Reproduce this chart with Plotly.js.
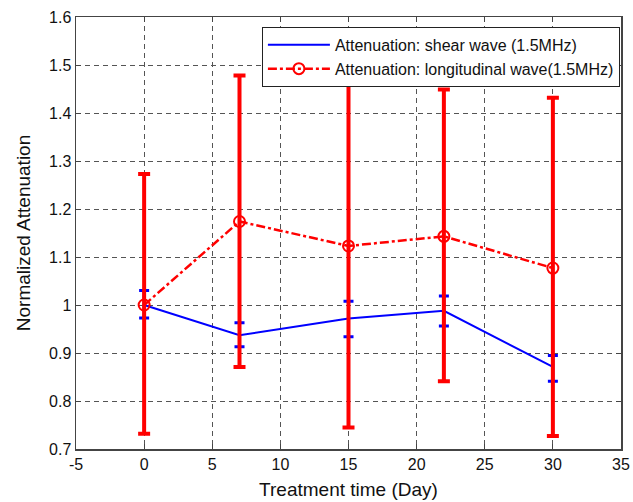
<!DOCTYPE html>
<html>
<head>
<meta charset="utf-8">
<script src="https://cdn.plot.ly/plotly-3.0.1.min.js"></script>
<style>html,body{margin:0;padding:0;background:#fff;}#chart{width:633px;height:502px;}</style>
</head>
<body>
<div id="chart"></div>
<script>
var days = [0, 7, 15, 22, 30];
var shearMean = [1.0, 0.937, 0.972, 0.988, 0.871];
var shearUpper = [1.030, 0.963, 1.008, 1.019, 0.895];
var shearLower = [0.973, 0.913, 0.934, 0.956, 0.841];
var longMean = [1.0, 1.174, 1.123, 1.143, 1.077];
var longUpper = [1.273, 1.478, 1.500, 1.449, 1.432];
var longLower = [0.732, 0.871, 0.745, 0.841, 0.727];
var xTicks = [-5, 0, 5, 10, 15, 20, 25, 30, 35];
var yTicks = [0.7, 0.8, 0.9, 1.0, 1.1, 1.2, 1.3, 1.4, 1.5, 1.6];
var yTickText = ['0.7', '0.8', '0.9', '1', '1.1', '1.2', '1.3', '1.4', '1.5', '1.6'];

function diff(a, b) { return a.map(function (v, i) { return Math.abs(v - b[i]); }); }

var FONT = 'Liberation Sans, Arial, sans-serif';

var traces = [
  {
    x: days, y: shearMean, type: 'scatter', mode: 'lines',
    name: 'Attenuation: shear wave (1.5MHz)',
    line: {color: '#0000ff', width: 2},
    error_y: {type: 'data', symmetric: false, array: diff(shearUpper, shearMean), arrayminus: diff(shearMean, shearLower),
      color: '#0000ff', thickness: 3, width: 5}
  },
  {
    x: days, y: longMean, type: 'scatter', mode: 'lines+markers',
    name: 'Attenuation: longitudinal wave(1.5MHz)',
    line: {color: '#ff0000', width: 2.5, dash: 'dashdot'},
    marker: {symbol: 'circle-open', size: 11, color: '#ff0000', line: {width: 2, color: '#ff0000'}},
    error_y: {type: 'data', symmetric: false, array: diff(longUpper, longMean), arrayminus: diff(longMean, longLower),
      color: '#ff0000', thickness: 4, width: 6}
  }
];

var axisCommon = {
  showline: true, linecolor: '#444', linewidth: 1.5, mirror: 'ticks',
  ticks: 'inside', ticklen: 5, tickcolor: '#444',
  showgrid: true, gridcolor: '#555', gridwidth: 1, griddash: '5px,4px',
  zeroline: false,
  tickfont: {family: FONT, size: 16, color: '#111'}
};

var layout = {
  width: 633, height: 502,
  margin: {l: 76, r: 12, t: 17, b: 53},
  paper_bgcolor: '#fff', plot_bgcolor: '#fff',
  showlegend: true,
  xaxis: Object.assign({}, axisCommon, {
    range: [-5, 35], tickvals: xTicks, ticktext: xTicks.map(String),
    title: {text: 'Treatment time (Day)', font: {family: FONT, size: 19, color: '#111'}, standoff: 11}
  }),
  yaxis: Object.assign({}, axisCommon, {
    range: [0.7, 1.6], tickvals: yTicks, ticktext: yTickText,
    title: {text: 'Normalized Attenuation', font: {family: FONT, size: 19, color: '#111'}, standoff: 13}
  }),
  legend: {
    x: 0.998, xanchor: 'right', y: 0.977, yanchor: 'top',
    bgcolor: '#fff', bordercolor: '#222', borderwidth: 1,
    font: {family: FONT, size: 16, color: '#111'},
    itemwidth: 62,
    tracegroupgap: 0
  }
};

Plotly.newPlot('chart', traces, layout, {displayModeBar: false, staticPlot: true});
</script>
</body>
</html>
